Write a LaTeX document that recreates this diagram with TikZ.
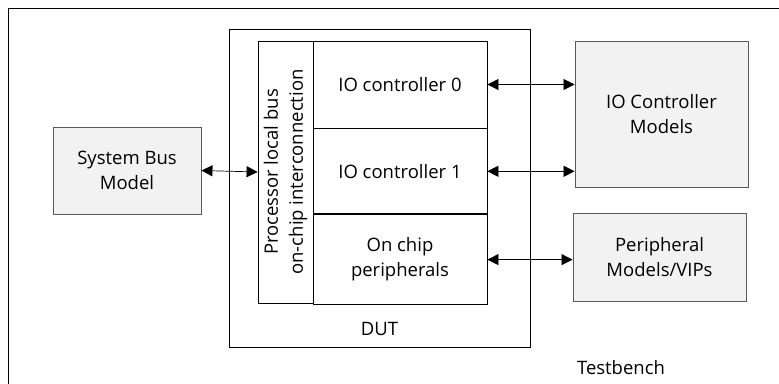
\documentclass[tikz,border=0pt]{standalone}
\usepackage{fontspec}
\setmainfont{Open Sans}
\usepackage{tikz}
\usetikzlibrary{arrows.meta, positioning, calc}
\definecolor{modelfill}{HTML}{F2F2F2}
\definecolor{modeldraw}{HTML}{595959}
\tikzset{every node/.style={font=\fontsize{18.5}{25}\selectfont}}
\tikzset{block/.style={rectangle, draw=black, line width=0.8pt, align=center, inner sep=0pt}}
\tikzset{model/.style={rectangle, draw=modeldraw, fill=modelfill, line width=0.9pt, align=center, inner sep=0pt}}
\tikzset{link/.style={{Triangle[length=11pt,width=11pt]}-{Triangle[length=11pt,width=11pt]}, line width=0.7pt}}

\begin{document}
\begin{tikzpicture}[x=1pt, y=-1pt]
  \clip (0,0) rectangle (779,383);
  \fill[white] (0,0) rectangle (779,383);
  % Testbench
  \draw[line width=0.8pt] (8,8) rectangle (800,400);
  \node (tb) at (621,368) {Testbench};
  % DUT
  \node[block, line width=0.7pt, minimum width=301pt, minimum height=318pt] (dut) at (379.5,188) {};
  \node (dutlabel) [above=8pt of dut.south] {DUT};
  \node[block, minimum width=55pt, minimum height=262pt] (bus) at (285.5,172) {};
  \node[rotate=90, align=center] (buslabel) at (bus.center) {Processor local bus\\on-chip interconnection};
  \node[block, minimum width=174pt, minimum height=87pt] (io0) at (400,84.5) {IO controller 0};
  \node[block, minimum width=174pt, minimum height=85pt] (io1) [below=0pt of io0] {IO controller 1};
  \node[block, minimum width=174pt, minimum height=90pt] (onchip) [below=0pt of io1] {On chip\\peripherals};
  % Models
  \node[model, minimum width=148pt, minimum height=87pt] (sbm) at (127,170.5) {System Bus\\Model};
  \node[model, minimum width=173pt, minimum height=146pt] (iom) at (661.5,114) {IO Controller\\Models};
  \node[model, minimum width=173pt, minimum height=88pt] (pm) at (659.5,257) {Peripheral\\Models/VIPs};
  % Links
  \draw[link] (sbm.east) -- (bus.west);
  \draw[link] (io0.east) -- (io0.east -| iom.west);
  \draw[link] (io1.east) -- (io1.east -| iom.west);
  \draw[link] (onchip.east) -- (onchip.east -| pm.west);
\end{tikzpicture}
\end{document}
